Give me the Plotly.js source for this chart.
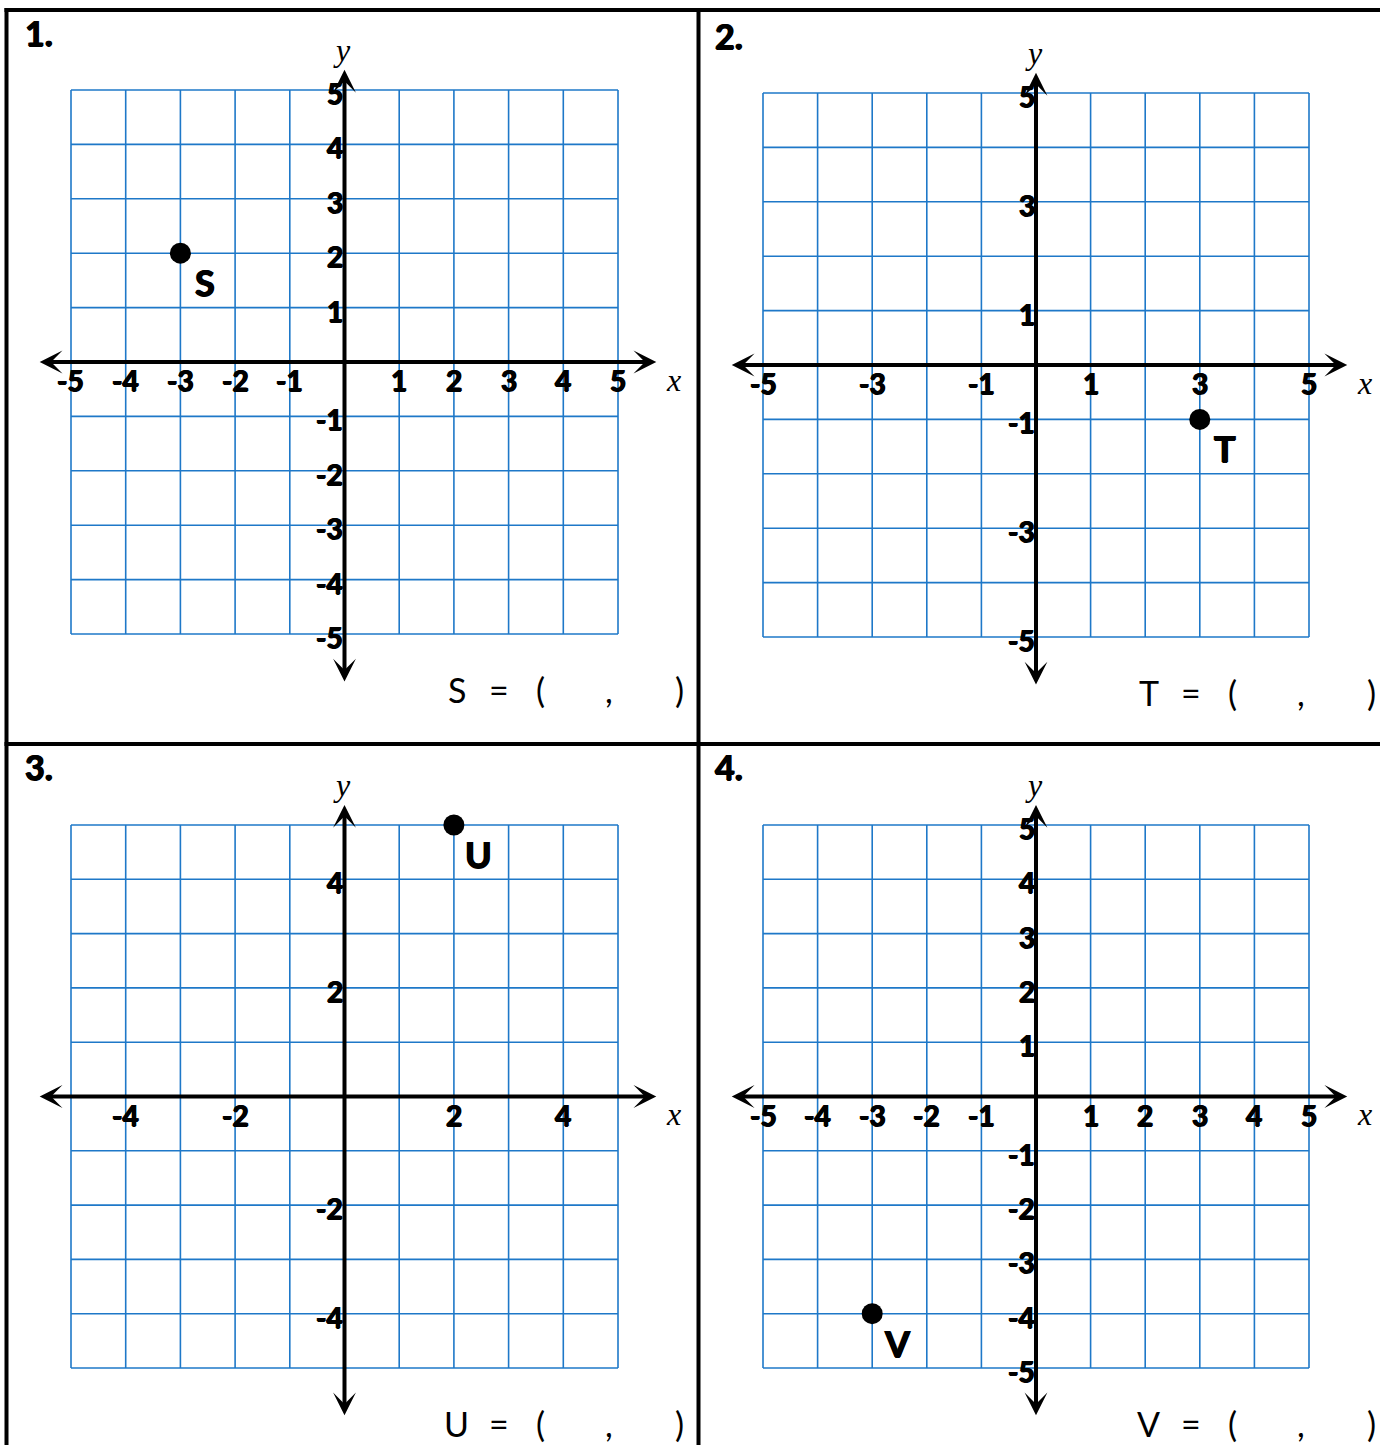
<!DOCTYPE html>
<html>
<head>
<meta charset="utf-8">
<script src="https://cdn.plot.ly/plotly-3.0.1.min.js"></script>
<style>
  body { margin: 0; background: #fff; }
  #chart { width: 1380px; height: 1445px; }
</style>
</head>
<body>
<div id="chart"></div>
<script>
"use strict"
// grid runs from -5 to 5 on both axes in every panel
var gridSteps = [-5, -4, -3, -2, -1, 0, 1, 2, 3, 4, 5];

var panelNumbers = ['1.', '2.', '3.', '4.'];
var pointNames = ['S', 'T', 'U', 'V'];
var pointX = [-3, 3, 2, -3];
var pointY = [2, -1, 5, -4];

var xTicks = [
  [-5, -4, -3, -2, -1, 1, 2, 3, 4, 5],
  [-5, -3, -1, 1, 3, 5],
  [-4, -2, 2, 4],
  [-5, -4, -3, -2, -1, 1, 2, 3, 4, 5]
];
var yTicks = [
  [5, 4, 3, 2, 1, -1, -2, -3, -4, -5],
  [5, 3, 1, -1, -3, -5],
  [4, 2, -2, -4],
  [5, 4, 3, 2, 1, -1, -2, -3, -4, -5]
];

var W = 1380, H = 1445;
// pixel box of the grid square in each panel: left, right, top, bottom
var boxes = [
  [71, 618, 90, 634],
  [763, 1309, 93, 637],
  [71, 618, 825, 1368],
  [763, 1309, 825, 1368]
];
var xRange = [-6.2, 6.2];
var yRange = [-6.3, 6.1];

var gridColor = 'rgb(30,120,200)';
var numFont = 'Lato, "Open Sans", sans-serif';
var varFont = '"Liberation Serif", "DejaVu Serif", serif';
var heavy = '0.7px 0 0 #000, -0.7px 0 0 #000, 0 0.5px 0 #000';

var data = [];
var annotations = [];
var shapes = [];

var layout = {
  width: W,
  height: H,
  margin: {l: 0, r: 0, t: 0, b: 0},
  showlegend: false,
  paper_bgcolor: '#ffffff',
  plot_bgcolor: 'rgba(0,0,0,0)',
  annotations: annotations,
  shapes: shapes
};

boxes.forEach(function(b, i) {
  var n = i === 0 ? '' : String(i + 1);
  var xa = 'x' + n, ya = 'y' + n;
  var ux = (b[1] - b[0]) / 10, uy = (b[3] - b[2]) / 10;
  var cx = (b[0] + b[1]) / 2, cy = (b[2] + b[3]) / 2;

  layout['xaxis' + n] = {
    range: xRange,
    domain: [(cx + xRange[0] * ux) / W, (cx + xRange[1] * ux) / W],
    visible: false,
    fixedrange: true,
    anchor: ya
  };
  layout['yaxis' + n] = {
    range: yRange,
    domain: [1 - (cy - yRange[0] * uy) / H, 1 - (cy - yRange[1] * uy) / H],
    visible: false,
    fixedrange: true,
    anchor: xa
  };

  // blue grid
  var gx = [], gy = [];
  gridSteps.forEach(function(v) {
    gx.push(v, v, null); gy.push(-5, 5, null);
    gx.push(-5, 5, null); gy.push(v, v, null);
  });
  data.push({
    x: gx, y: gy, xaxis: xa, yaxis: ya,
    type: 'scatter', mode: 'lines',
    line: {color: gridColor, width: 1.6},
    hoverinfo: 'skip'
  });

  // the point
  data.push({
    x: [pointX[i]], y: [pointY[i]], xaxis: xa, yaxis: ya,
    type: 'scatter', mode: 'markers',
    marker: {color: '#000', size: 21},
    hoverinfo: 'skip'
  });

  // axes with arrows at both ends
  var arrowBase = {
    xref: xa, yref: ya, axref: xa, ayref: ya,
    text: '', showarrow: true,
    arrowcolor: '#000', arrowwidth: 4,
    arrowhead: 3, startarrowhead: 3,
    arrowsize: 0.95, startarrowsize: 0.95,
    arrowside: 'end+start'
  };
  annotations.push(Object.assign({}, arrowBase, {x: 5.7, y: 0, ax: -5.6, ay: 0}));
  annotations.push(Object.assign({}, arrowBase, {x: 0, y: 5.37, ax: 0, ay: -5.9}));

  // tick labels
  var tickFont = {family: numFont, size: 28, weight: 'bold', color: '#000', shadow: heavy};
  xTicks[i].forEach(function(v) {
    annotations.push({
      xref: xa, yref: ya, x: v, y: 0,
      text: String(v), showarrow: false,
      xanchor: 'center', yanchor: 'top', yshift: 1,
      font: tickFont
    });
  });
  yTicks[i].forEach(function(v) {
    annotations.push({
      xref: xa, yref: ya, x: 0, y: v,
      text: String(v), showarrow: false,
      xanchor: 'right', yanchor: 'middle', xshift: 1, yshift: -3,
      font: tickFont
    });
  });

  // axis names
  annotations.push({
    xref: xa, yref: ya, x: 6.02, y: -0.33,
    text: 'x', showarrow: false, xanchor: 'center', yanchor: 'middle',
    font: {family: varFont, size: 32, style: 'italic', color: '#000'}
  });
  annotations.push({
    xref: xa, yref: ya, x: -0.04, y: 5.74,
    text: 'y', showarrow: false, xanchor: 'center', yanchor: 'middle',
    font: {family: varFont, size: 32, style: 'italic', color: '#000'}
  });

  // point name
  annotations.push({
    xref: xa, yref: ya, x: pointX[i], y: pointY[i],
    text: pointNames[i], showarrow: false,
    xanchor: 'center', yanchor: 'middle', xshift: 25, yshift: -29,
    font: {family: numFont, size: 36, weight: 'bold', color: '#000', shadow: heavy}
  });

  // panel number
  annotations.push({
    xref: 'paper', yref: 'paper',
    x: (b[0] - (i % 2 === 0 ? 48 : 50)) / W, y: 1 - (b[2] - (i < 2 ? 58 : 59)) / H,
    text: panelNumbers[i], showarrow: false,
    xanchor: 'left', yanchor: 'middle',
    font: {family: numFont, size: 34, weight: 'bold', color: '#000', shadow: heavy}
  });

  // answer line: "S = ( , )"
  var answerParts = [pointNames[i], '=', '(', ',', ')'];
  var answerOffsets = [385.5, 428, 469, 538, 608];
  answerParts.forEach(function(t, k) {
    annotations.push({
      xref: 'paper', yref: 'paper',
      x: (b[0] + answerOffsets[k]) / W, y: 1 - (b[3] + 55) / H,
      text: t, showarrow: false, xanchor: 'center', yanchor: 'middle',
      font: {family: numFont, size: 34, color: '#000'}
    });
  });
});

// black frame between the four exercises
var frame = {type: 'line', xref: 'paper', yref: 'paper', layer: 'above',
  line: {color: '#000', width: 4}};
shapes.push(Object.assign({}, frame, {x0: 4.5 / W, x1: 1, y0: 1 - 10 / H, y1: 1 - 10 / H}));
shapes.push(Object.assign({}, frame, {x0: 6.5 / W, x1: 6.5 / W, y0: 1 - 8 / H, y1: 0}));
shapes.push(Object.assign({}, frame, {x0: 698.5 / W, x1: 698.5 / W, y0: 1 - 8 / H, y1: 0}));
shapes.push(Object.assign({}, frame, {x0: 4.5 / W, x1: 1, y0: 1 - 744 / H, y1: 1 - 744 / H}));

Plotly.newPlot('chart', data, layout, {displayModeBar: false, staticPlot: true});
</script>
</body>
</html>
